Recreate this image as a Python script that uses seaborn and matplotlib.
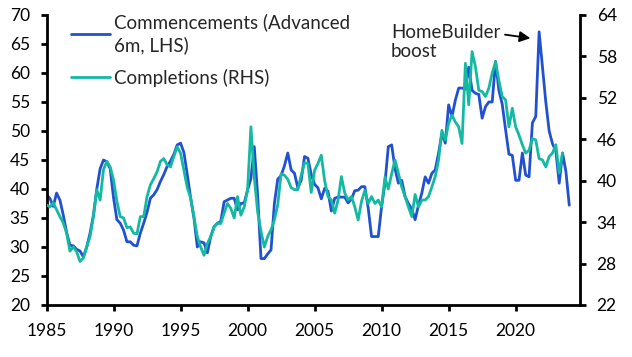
import numpy as np
import pandas as pd
import matplotlib
matplotlib.use("Agg")
import matplotlib.pyplot as plt
import seaborn as sns

# quarterly data, starting 1985 Q1
commencements = [  # LHS, advanced 6m
    39.0, 38.4, 37.0, 39.3,  38.1, 35.5, 32.5, 30.3,  30.2, 29.6, 29.3, 28.3,
    30.0, 32.4, 35.5, 40.0,  43.5, 45.0, 44.7, 43.5,  38.5, 34.7, 34.1, 32.9,
    30.9, 30.9, 30.3, 30.2,  32.4, 34.1, 36.0, 38.4,  39.0, 39.9, 41.3, 42.5,
    43.9, 44.8, 46.0, 47.6,  47.9, 46.3, 42.5, 38.5,  35.0, 30.0, 30.9, 30.7,
    29.0, 31.8, 33.5, 34.1,  34.4, 37.8, 38.1, 38.4,  38.4, 36.4, 37.5, 37.6,
    39.8, 41.8, 47.3, 39.0,  28.0, 28.0, 28.8, 29.5,  37.5, 41.7, 42.3, 44.0,
    46.2, 43.3, 42.7, 40.2,  41.5, 45.6, 45.3, 42.5,  40.8, 40.2, 38.3, 40.1,
    39.6, 36.2, 38.4, 38.6,  38.6, 38.6, 37.6, 38.3,  39.7, 39.8, 40.4, 40.4,
    36.7, 31.8, 31.8, 31.8,  37.0, 41.0, 47.3, 47.6,  43.5, 41.0, 41.5, 38.7,
    37.5, 36.5, 34.7, 37.2,  39.3, 42.1, 41.0, 42.7,  43.3, 46.2, 49.6, 47.9,
    54.5, 52.5, 55.3, 57.4,  57.4, 57.2, 61.0, 57.0,  56.5, 56.3, 52.2, 54.2,
    55.0, 55.0, 62.0, 57.0,  54.6, 50.2, 46.0, 45.8,  41.5, 41.5, 46.2, 42.4,
    42.1, 51.4, 52.5, 67.1,  61.0, 55.0, 50.0, 47.8,  46.5, 41.0, 46.2, 43.0,
    37.2,
]
completions = [  # RHS
    36.5, 36.2, 36.8, 35.8,  34.8, 33.9, 32.4, 29.8,  30.4, 29.7, 28.3, 28.8,
    30.4, 31.9, 34.8, 38.7,  37.2, 41.6, 42.8, 42.0,  40.1, 37.0, 34.8, 34.6,
    33.2, 33.3, 32.4, 32.3,  34.8, 34.8, 37.7, 39.4,  40.3, 41.3, 42.8, 43.2,
    42.3, 42.0, 43.5, 44.9,  44.0, 41.5, 39.0, 37.5,  34.8, 31.9, 30.4, 29.2,
    30.9, 31.9, 33.3, 33.8,  33.8, 35.3, 36.7, 36.0,  34.6, 37.7, 35.0, 36.2,
    38.7, 47.8, 40.5, 35.5,  32.7, 30.4, 31.9, 32.9,  34.3, 36.5, 41.0, 40.8,
    40.2, 39.0, 38.7, 38.7,  40.8, 42.6, 42.5, 38.3,  41.5, 42.5, 43.7, 40.0,
    37.7, 37.2, 35.3, 37.2,  40.6, 38.2, 37.2, 37.7,  36.2, 34.3, 37.0, 38.6,
    36.7, 37.7, 36.7, 37.2,  36.2, 40.5, 38.8, 41.0,  43.0, 41.1, 39.1, 37.7,
    36.2, 34.8, 38.0, 36.2,  37.2, 37.2, 37.7, 39.1,  40.6, 43.0, 47.3, 45.9,
    48.3, 49.5, 48.5, 47.8,  45.4, 57.0, 51.0, 58.7,  56.5, 53.1, 52.9, 52.2,
    53.4, 55.6, 57.2, 54.5,  52.2, 51.7, 47.8, 50.5,  47.8, 46.6, 45.2, 44.0,
    44.4, 46.1, 45.9, 43.2,  43.0, 42.0, 43.5, 44.0,  45.2, 41.1, 44.0,
]

year_c = 1985 + np.arange(len(commencements)) * 0.25
year_p = 1985 + np.arange(len(completions)) * 0.25
df_c = pd.DataFrame({"year": year_c, "value": commencements})
df_p = pd.DataFrame({"year": year_p, "value": completions})

blue = "#2151D1"
teal = "#14B9A2"

sns.set_style("ticks")
plt.rcParams["font.family"] = ["Lato", "DejaVu Sans"]

fig = plt.figure(figsize=(6.32, 3.57), dpi=100)
ax = fig.add_axes([0.0736, 0.1457, 0.8441, 0.8123])
ax2 = ax.twinx()

sns.lineplot(data=df_c, x="year", y="value", ax=ax, color=blue, lw=2.0,
             label="Commencements (Advanced\n6m, LHS)", legend=False)
sns.lineplot(data=df_p, x="year", y="value", ax=ax2, color=teal, lw=2.0,
             label="Completions (RHS)", legend=False)

ax.set_xlim(1985, 2024.8)
ax.set_ylim(20, 70)
ax2.set_ylim(22, 64)
ax.set_xticks(range(1985, 2021, 5))
ax.set_yticks(range(20, 71, 5))
ax2.set_yticks(range(22, 65, 6))
ax.set_xlabel("")
ax.set_ylabel("")
ax2.set_ylabel("")

for a in (ax, ax2):
    a.spines["top"].set_visible(False)
    for s in ("left", "right", "bottom"):
        a.spines[s].set_linewidth(2.0)
        a.spines[s].set_color("black")
    a.tick_params(width=2.0, length=4, labelsize=12.5, colors="black", pad=8)
ax.tick_params(axis="x", pad=9)
ax.spines["right"].set_visible(False)
ax2.spines["left"].set_visible(False)
ax2.spines["bottom"].set_visible(False)

h1, l1 = ax.get_legend_handles_labels()
h2, l2 = ax2.get_legend_handles_labels()
leg = ax2.legend(h1 + h2, l1 + l2, loc="upper left",
                 bbox_to_anchor=(0.045, 1.005), frameon=False, fontsize=13.5,
                 handlelength=2.1, handletextpad=0.2, labelspacing=0.75,
                 borderpad=0, borderaxespad=0)
for t in leg.get_texts():
    t.set_linespacing(1.35)

ax.annotate("HomeBuilder\nboost", xy=(2021.1, 66.0), xytext=(2010.7, 68.5),
            fontsize=13.5, va="top", ha="left",
            arrowprops=dict(arrowstyle="-|>", color="black", lw=1.3,
                            mutation_scale=16, shrinkA=1, shrinkB=0,
                            relpos=(1.0, 0.72)))

fig.savefig("out.png", dpi=100)
